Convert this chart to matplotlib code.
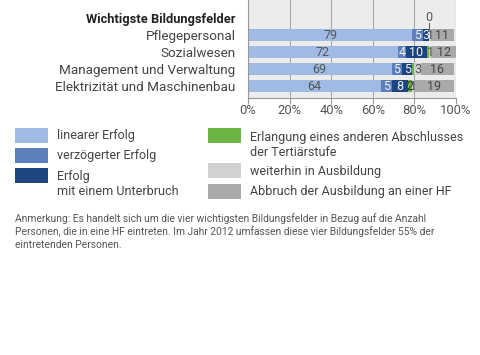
import matplotlib.pyplot as plt
from matplotlib.patches import Rectangle

plt.rcParams['font.family'] = ['Roboto', 'DejaVu Sans']

# data
fields = ["Pflegepersonal", "Sozialwesen", "Management und Verwaltung",
          "Elektrizität und Maschinenbau"]
linear = [79, 72, 69, 64]
delayed = [5, 4, 5, 5]
interrupted = [3, 10, 5, 8]
other_degree = [0, 1, 1, 2]
ongoing = [1, 1, 3, 1]
dropout = [11, 12, 16, 19]

series_names = ["linearer Erfolg", "verzögerter Erfolg", "Erfolg\nmit einem Unterbruch",
                "Erlangung eines anderen Abschlusses\nder Tertiärstufe",
                "weiterhin in Ausbildung", "Abbruch der Ausbildung an einer HF"]
colors = ["#a0bbe3", "#5b80bd", "#1d4581", "#6cb444", "#d1d1d1", "#a9a9a9"]
text_colors = ["#555555", "#f4f4f4", "#f4f4f4", "#333333", "#555555", "#444444"]
header = "Wichtigste Bildungsfelder"
xticks = [0, 20, 40, 60, 80, 100]
wt = "normal"

W, H = 480, 355
fig = plt.figure(figsize=(W / 100, H / 100), dpi=100)
ax = fig.add_axes([248 / W, 1 - 98 / H, 208 / W, 98 / H])
ax.set_facecolor("#ececec")

series = [linear, delayed, interrupted, other_degree, ongoing, dropout]
ypos = [3, 2, 1, 0]
left = [0] * len(fields)
for k, vals in enumerate(series):
    ax.barh(ypos, vals, left=left, height=0.7, color=colors[k], zorder=2)
    for y, l, v in zip(ypos, left, vals):
        if v == 0:
            ax.text(l, 4.05, "0", ha="center", va="center", fontsize=9,
                    color="#555555", fontweight=wt)
            ax.plot([l, l], [y + 0.35, 3.72], color="#555555", lw=0.7, zorder=3)
        elif k == 3 and v < 2:
            pass
        else:
            ax.text(l + v / 2, y, str(v), ha="center", va="center", fontsize=9,
                    color=text_colors[k], fontweight=wt, zorder=4)
    left = [a + b for a, b in zip(left, vals)]

ax.set_xlim(0, 100)
ax.set_ylim(-0.706, 5.06)
ax.set_xticks(xticks)
ax.set_xticklabels([f"{t}%" for t in xticks], fontsize=9.4, color="#555555",
                   fontweight=wt)
ax.tick_params(axis="x", length=4, color="#999999", pad=0.5)
ax.set_yticks([4] + ypos)
ax.set_yticklabels([header] + fields, fontsize=9.7, color="#444444",
                   fontweight=wt)
ax.get_yticklabels()[0].set_fontweight("bold")
ax.get_yticklabels()[0].set_color("#222222")
ax.get_yticklabels()[0].set_fontsize(9.3)
ax.tick_params(axis="y", length=0, pad=9)
ax.grid(axis="x", color="#a8a8a8", lw=0.8, zorder=1)
ax.set_axisbelow(True)
for s in ["top", "right"]:
    ax.spines[s].set_visible(False)
ax.spines["left"].set_color("#999999")
ax.spines["bottom"].set_color("#999999")
ax.spines["left"].set_linewidth(0.8)
ax.spines["bottom"].set_linewidth(0.8)

# legend, built by hand
def px(x, y):
    return x / W, 1 - y / H

rects = [(15, 128), (15, 148), (15, 168), (208, 128), (208, 163), (208, 184)]
label_y = [135.5, 155, 184, 145, 172, 192]
for k, ((rx, ry), ly) in enumerate(zip(rects, label_y)):
    x0, y0 = px(rx, ry + 15)
    fig.add_artist(Rectangle((x0, y0), 33 / W, 15 / H, transform=fig.transFigure,
                             color=colors[k], lw=0))
    lx = rx + 42
    fig.text(lx / W, 1 - ly / H, series_names[k], ha="left", va="center",
             fontsize=9.0, color="#444444", fontweight=wt, linespacing=1.2)

note = ("Anmerkung: Es handelt sich um die vier wichtigsten Bildungsfelder in Bezug auf die Anzahl\n"
        "Personen, die in eine HF eintreten. Im Jahr 2012 umfassen diese vier Bildungsfelder 55% der\n"
        "eintretenden Personen.")
fig.text(15 / W, 1 - 213 / H, note, ha="left", va="top", fontsize=7.35,
         color="#555555", fontweight=wt, linespacing=1.3)

fig.savefig("out.png", dpi=100, facecolor="white")
